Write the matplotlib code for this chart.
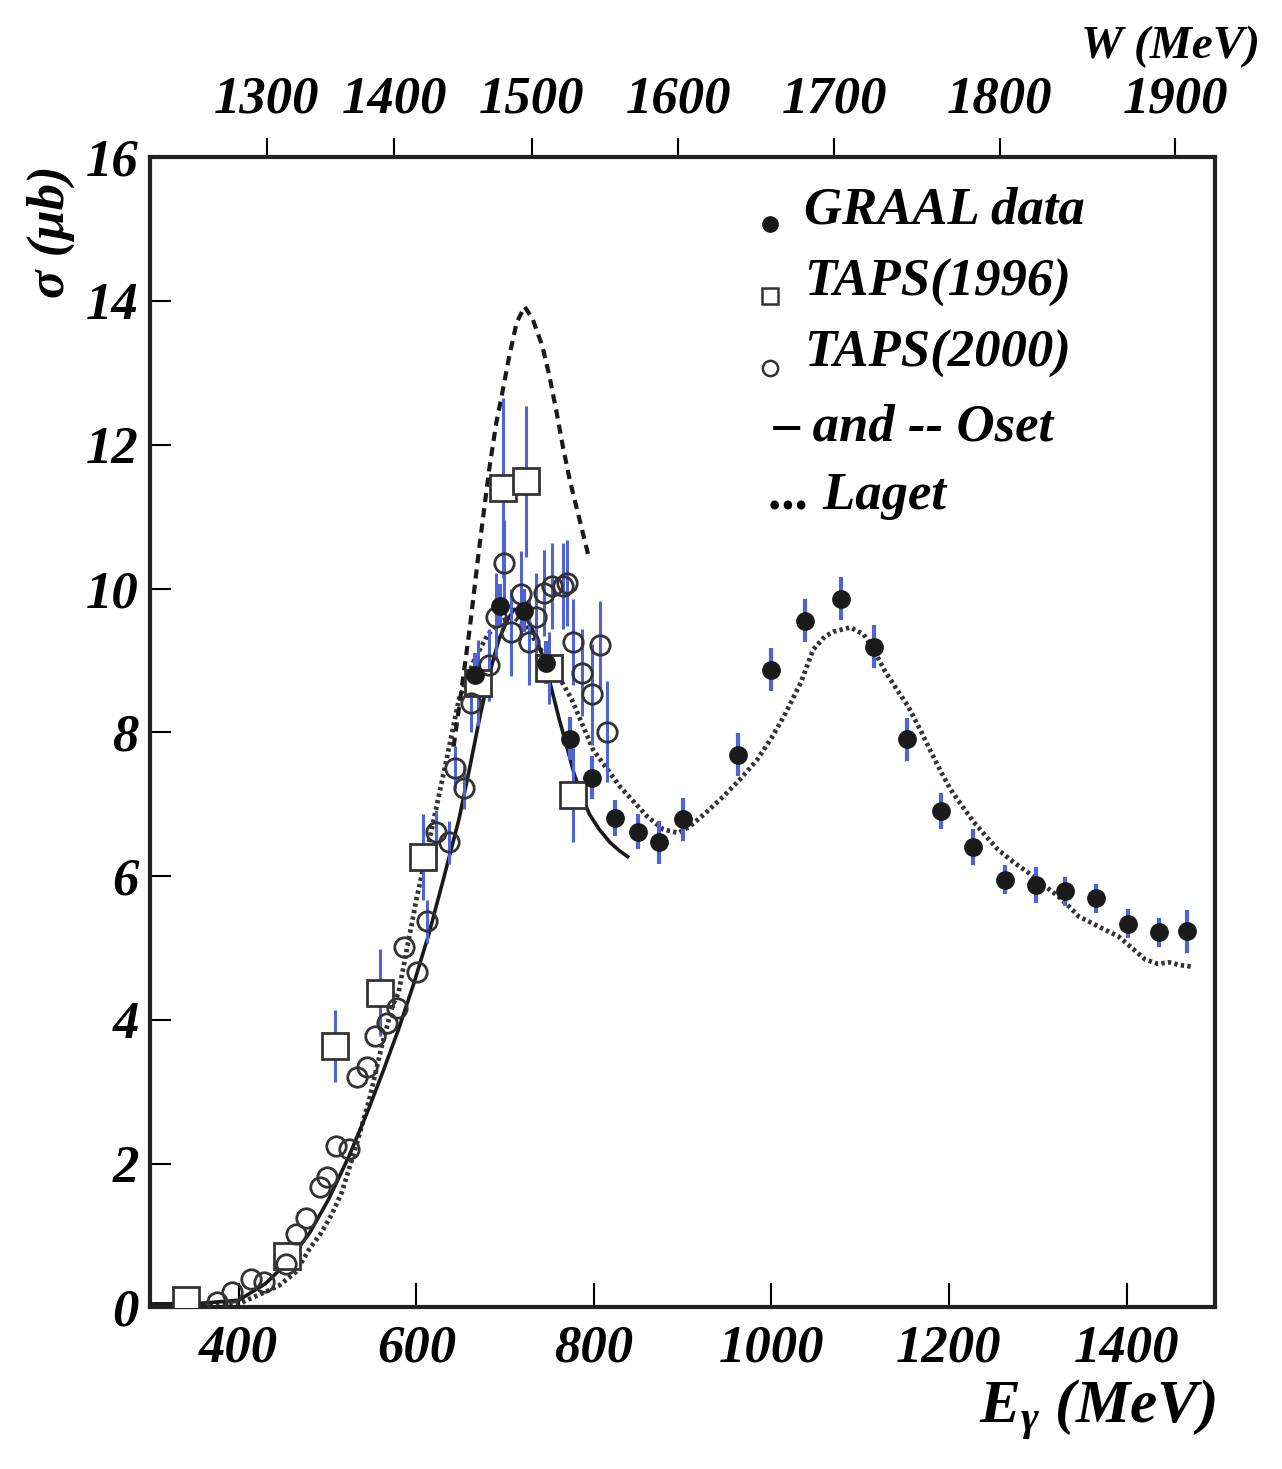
#!/usr/bin/env python3
# -*- coding: utf-8 -*-
"""
Eta photoproduction cross section: GRAAL vs TAPS data, Oset and Laget models
"""

import numpy as np
import matplotlib
matplotlib.use("Agg")
import matplotlib.pyplot as plt

plt.rcParams['font.family'] = ['Liberation Serif', 'DejaVu Serif']
plt.rcParams['font.weight'] = 'bold'
plt.rcParams['font.style'] = 'italic'
plt.rcParams['mathtext.fontset'] = 'custom'
plt.rcParams['mathtext.rm'] = 'Liberation Serif:bold:italic'
plt.rcParams['mathtext.it'] = 'Liberation Serif:bold:italic'
plt.rcParams['mathtext.bf'] = 'Liberation Serif:bold:italic'

# GRAAL data (E_gamma in MeV, sigma in microbarn)
graal_e = [666, 694, 721, 746, 773, 798, 824, 850, 873, 900, 962, 999, 1038,
           1078, 1115, 1153, 1191, 1227, 1263, 1298, 1331, 1366, 1402, 1436, 1468]
graal_s = [8.80, 9.76, 9.69, 8.97, 7.91, 7.37, 6.81, 6.62, 6.47, 6.79, 7.69, 8.87, 9.55,
           9.86, 9.19, 7.90, 6.90, 6.40, 5.95, 5.87, 5.79, 5.69, 5.34, 5.22, 5.23]
graal_err = [0.3, 0.3, 0.3, 0.3, 0.3, 0.3, 0.25, 0.25, 0.3, 0.3, 0.3, 0.3, 0.3,
             0.3, 0.3, 0.3, 0.25, 0.25, 0.2, 0.25, 0.2, 0.2, 0.2, 0.2, 0.3]

# TAPS (1996) open squares
taps96_e = [340, 454, 508, 559, 608, 670, 698, 724, 750, 777]
taps96_s = [0.11, 0.71, 3.64, 4.38, 6.27, 8.69, 11.40, 11.49, 8.90, 7.13]
taps96_err = [0.05, 0.1, 0.5, 0.6, 0.6, 0.6, 1.25, 1.05, 0.5, 0.65]

# TAPS (2000) open circles
taps00_e = [375, 392, 414, 428, 453, 464, 476, 492, 499, 510, 524, 533, 544, 554,
            567, 578, 586, 601, 612, 622, 637, 643, 654, 662,
            682, 690, 699, 707, 718, 727, 735, 744, 753, 765, 770, 776, 787, 798, 807, 815]
taps00_s = [0.08, 0.22, 0.39, 0.36, 0.60, 1.02, 1.25, 1.68, 1.82, 2.24, 2.20, 3.21, 3.34, 3.77,
            3.96, 4.17, 5.01, 4.67, 5.37, 6.62, 6.47, 7.51, 7.23, 8.41,
            8.94, 9.61, 10.36, 9.39, 9.92, 9.26, 9.61, 9.94, 10.03, 10.03, 10.08, 9.26, 8.83, 8.53, 9.22, 8.01]
taps00_err = [0.0, 0.0, 0.0, 0.0, 0.0, 0.0, 0.0, 0.0, 0.0, 0.0, 0.0, 0.0, 0.0, 0.0,
              0.0, 0.0, 0.0, 0.0, 0.3, 0.3, 0.3, 0.3, 0.3, 0.4,
              0.5, 0.6, 0.6, 0.6, 0.6, 0.6, 0.6, 0.6, 0.6, 0.6, 0.6, 0.6, 0.6, 0.7, 0.6, 0.7]

# Oset model, solid curve
oset_e = [300, 350, 400, 430, 456, 480, 501, 524, 546, 563, 580, 597, 614, 631, 648,
          660, 671, 682, 693, 702, 710, 718, 727, 735, 744, 752, 761, 770, 778, 787, 795,
          806, 818, 828, 838]
oset_s = [0.05, 0.05, 0.10, 0.33, 0.64, 1.04, 1.50, 2.10, 2.75, 3.30, 3.87, 4.50, 5.19, 5.98, 6.79,
          7.50, 8.18, 8.80, 9.29, 9.55, 9.71, 9.70, 9.54, 9.30, 9.01, 8.62, 8.18, 7.78, 7.41, 7.10, 6.86,
          6.65, 6.47, 6.36, 6.27]

# Oset model, dashed curve
oset2_e = [642, 651, 660, 671, 682, 690, 696, 705, 713, 722, 731, 742, 750, 758, 765, 773, 780, 787, 795]
oset2_s = [7.80, 8.60, 9.43, 10.58, 11.65, 12.30, 12.67, 13.25, 13.70, 13.92, 13.75, 13.37, 12.95, 12.45,
           11.98, 11.50, 11.15, 10.80, 10.40]

# Laget model, dotted curve
laget_e = [300, 350, 400, 445, 464, 479, 493, 505, 516, 532, 547, 561, 573, 580, 600, 618, 634, 648,
           665, 680, 695, 710, 725, 740, 757, 775, 799, 829, 860, 878, 895, 908, 926, 946, 965, 984,
           1000, 1014, 1033, 1047, 1060, 1070, 1089, 1104, 1115, 1127, 1140, 1154, 1167, 1180, 1191,
           1202, 1215, 1228, 1242, 1255, 1272, 1289, 1306, 1323, 1335, 1346, 1368, 1391, 1406,
           1421, 1435, 1448, 1461, 1474]
laget_s = [0.03, 0.03, 0.05, 0.30, 0.49, 0.80, 1.04, 1.30, 1.60, 2.24, 2.89, 3.63, 4.19, 4.38, 5.67,
           6.69, 7.62, 8.46, 9.00, 9.35, 9.55, 9.60, 9.45, 9.15, 8.85, 8.46, 7.76, 7.25, 6.83, 6.65,
           6.60, 6.69, 6.88, 7.11, 7.35, 7.62, 7.92, 8.22, 8.69, 9.15, 9.33, 9.40, 9.46, 9.36,
           9.15, 8.87, 8.62, 8.36, 8.05, 7.72, 7.45, 7.20, 6.97, 6.75, 6.55, 6.37, 6.20, 6.05,
           5.88, 5.72, 5.58, 5.44, 5.30, 5.16, 5.00, 4.84, 4.78, 4.80, 4.76, 4.74]

M_P = 938.27  # proton mass (MeV)


def e_to_w(e):
    """Photon lab energy -> total cm energy"""
    return np.sqrt(np.maximum(M_P ** 2 + 2 * M_P * np.asarray(e, dtype=float), 1e-9))


def w_to_e(w):
    """Total cm energy -> photon lab energy"""
    w = np.asarray(w, dtype=float)
    return (w ** 2 - M_P ** 2) / (2 * M_P)


err_blue = '#4f63d2'
label_size = 38

fig = plt.figure(figsize=(12.82, 14.69), dpi=100)
ax = fig.add_axes([0.117, 0.110, 0.831, 0.783])

# theory curves
ax.plot(laget_e, laget_s, color='#333333', lw=3.4, linestyle=(0, (0.7, 0.7)), zorder=2)
ax.plot(oset_e, oset_s, color='#1a1a1a', lw=2.6, linestyle='-', zorder=3)
ax.plot(oset2_e, oset2_s, color='#1a1a1a', lw=3.0, linestyle=(0, (2.2, 1.5)), zorder=3)

# data
ax.errorbar(taps96_e, taps96_s, yerr=taps96_err, fmt='none', ecolor=err_blue,
            elinewidth=2.2, capsize=0, zorder=4)
ax.errorbar(taps00_e, taps00_s, yerr=taps00_err, fmt='none', ecolor=err_blue,
            elinewidth=2.2, capsize=0, zorder=4)
ax.errorbar(graal_e, graal_s, yerr=graal_err, fmt='none', ecolor=err_blue,
            elinewidth=3.0, capsize=0, zorder=4)
ax.plot(taps96_e, taps96_s, linestyle='none', marker='s', ms=19, mfc='white',
        mec='#333333', mew=2.0, zorder=5)
ax.plot(taps00_e, taps00_s, linestyle='none', marker='o', ms=14, mfc='none',
        mec='#333333', mew=2.0, zorder=6)
ax.plot(graal_e, graal_s, linestyle='none', marker='o', ms=12.5, mfc='#1a1a1a',
        mec='#1a1a1a', zorder=7)

ax.set_xlim(300, 1500)
ax.set_ylim(0, 16)
ax.set_xticks([400, 600, 800, 1000, 1200, 1400])
ax.set_yticks(np.arange(0, 17, 2))
ax.tick_params(axis='x', direction='in', length=17, width=1.5, pad=12,
               labelsize=label_size, top=False)
ax.tick_params(axis='y', direction='in', length=15, width=1.5, pad=8,
               labelsize=label_size, right=False)
for lab in ax.get_xticklabels() + ax.get_yticklabels():
    lab.set_fontweight('bold')
    lab.set_fontstyle('italic')
for sp in ax.spines.values():
    sp.set_linewidth(3.0)
    sp.set_color('#222222')

# W axis on top
secax = ax.secondary_xaxis('top', functions=(e_to_w, w_to_e))
secax.set_xticks([1300, 1400, 1500, 1600, 1700, 1800, 1900])
secax.tick_params(axis='x', direction='out', length=14, width=1.5, pad=10,
                  labelsize=label_size)
for lab in secax.get_xticklabels():
    lab.set_fontweight('bold')
    lab.set_fontstyle('italic')
secax.spines['top'].set_visible(False)

# axis titles
fig.text(0.040, 0.842, r'σ (μb)', rotation=90, ha='center', va='center',
         fontsize=label_size, fontweight='bold', fontstyle='italic')
fig.text(0.983, 0.968, 'W (MeV)', ha='right', va='center',
         fontsize=34, fontweight='bold', fontstyle='italic')
fig.text(0.948, 0.040, r'$E_{\gamma}$ (MeV)', ha='right', va='center',
         fontsize=44, fontweight='bold', fontstyle='italic')

# legend, drawn by hand to follow the original layout
leg_x_mark = 0.582
leg_x_text = 0.614
leg_rows = [0.954, 0.891, 0.829, 0.765, 0.705]
ax.plot([leg_x_mark], [leg_rows[0] - 0.012], transform=ax.transAxes, marker='o', ms=11,
        color='#1a1a1a', linestyle='none', clip_on=False)
ax.plot([leg_x_mark], [leg_rows[1] - 0.012], transform=ax.transAxes, marker='s', ms=11,
        mfc='white', mec='#333333', mew=1.8, linestyle='none', clip_on=False)
ax.plot([leg_x_mark], [leg_rows[2] - 0.012], transform=ax.transAxes, marker='o', ms=11,
        mfc='white', mec='#333333', mew=1.8, linestyle='none', clip_on=False)
leg_texts = ['GRAAL data', 'TAPS(1996)', 'TAPS(2000)']
for yy, tt in zip(leg_rows[:3], leg_texts):
    ax.text(leg_x_text, yy, tt, transform=ax.transAxes, ha='left', va='center',
            fontsize=label_size, fontweight='bold', fontstyle='italic')
ax.text(0.586, leg_rows[3], '– and -- Oset', transform=ax.transAxes, ha='left',
        va='center', fontsize=label_size, fontweight='bold', fontstyle='italic')
ax.text(0.582, leg_rows[4], '... Laget', transform=ax.transAxes, ha='left',
        va='center', fontsize=label_size, fontweight='bold', fontstyle='italic')

plt.savefig('out.png', dpi=100)
